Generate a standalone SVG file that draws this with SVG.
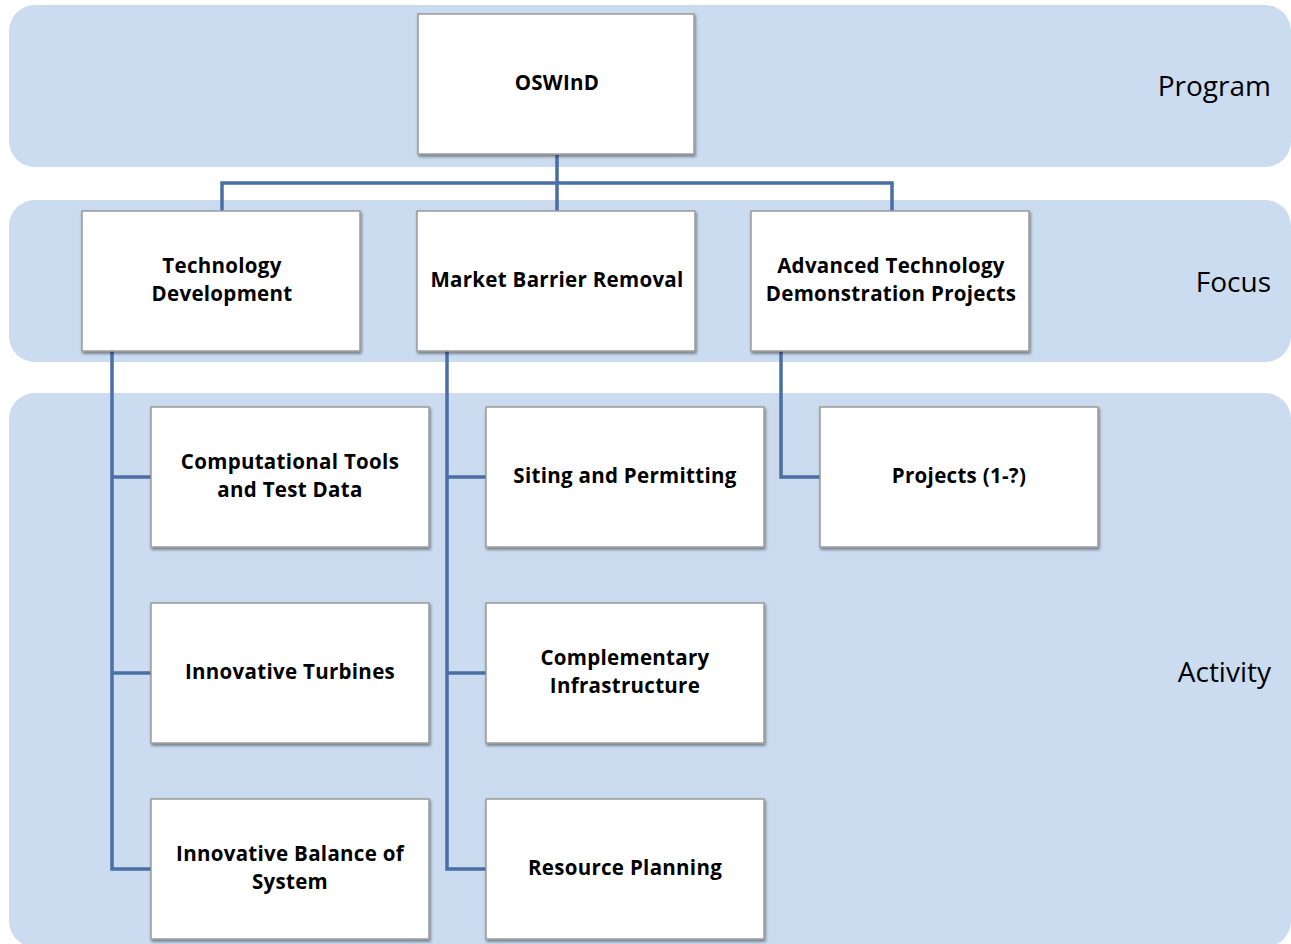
<svg xmlns="http://www.w3.org/2000/svg" width="1291" height="944" viewBox="0 0 1291 944">
<defs>
<filter id="sh" x="-10%" y="-10%" width="125%" height="125%">
<feGaussianBlur in="SourceAlpha" stdDeviation="1.5"/>
<feOffset dx="1" dy="2" result="b"/>
<feComponentTransfer><feFuncA type="linear" slope="0.45"/></feComponentTransfer>
<feMerge><feMergeNode/><feMergeNode in="SourceGraphic"/></feMerge>
</filter>
</defs>
<style>
.band{fill:#cbdcf0}
.node rect{fill:#ffffff;stroke:#9a9a9a;stroke-width:1.5;filter:url(#sh)}
.node text{font-family:"Open Sans","Liberation Sans",sans-serif;font-weight:bold;font-size:20.5px;fill:#000;text-anchor:middle;letter-spacing:0.3px}
.lab{font-family:"Open Sans","Liberation Sans",sans-serif;font-size:28px;fill:#000;text-anchor:end}
.conn{fill:none;stroke:#4a6fa5;stroke-width:3.5}
</style>
<rect width="1291" height="944" fill="#ffffff"/>
<g id="bands">
<rect class="band" x="9" y="5" width="1282" height="162" rx="26"/>
<rect class="band" x="9" y="200" width="1282" height="162" rx="26"/>
<rect class="band" x="9" y="393" width="1282" height="554" rx="26"/>
<text class="lab" x="1271" y="96">Program</text>
<text class="lab" x="1271" y="292">Focus</text>
<text class="lab" x="1271" y="682">Activity</text>
</g>
<g id="connectors">
<path class="conn" d="M557 155V183M222 211V183H892V211M557 183V211"/>
<path class="conn" d="M112 351V869H151M112 477H151M112 673H151"/>
<path class="conn" d="M447 351V869H486M447 477H486M447 673H486"/>
<path class="conn" d="M781 351V477H820"/>
</g>
<g id="n-oswind" class="node"><rect x="418" y="14" width="276" height="140"/><text x="557" y="90">OSWInD</text></g>
<g id="n-techdev" class="node"><rect x="82" y="211" width="278" height="140"/><text x="222" y="273">Technology</text><text x="222" y="301">Development</text></g>
<g id="n-market" class="node"><rect x="417" y="211" width="278" height="140"/><text x="557" y="287">Market Barrier Removal</text></g>
<g id="n-advanced" class="node"><rect x="751" y="211" width="278" height="140"/><text x="891" y="273">Advanced Technology</text><text x="891" y="301">Demonstration Projects</text></g>
<g id="n-comp" class="node"><rect x="151" y="407" width="278" height="140"/><text x="290" y="469">Computational Tools</text><text x="290" y="497">and Test Data</text></g>
<g id="n-turb" class="node"><rect x="151" y="603" width="278" height="140"/><text x="290" y="679">Innovative Turbines</text></g>
<g id="n-bos" class="node"><rect x="151" y="799" width="278" height="140"/><text x="290" y="861">Innovative Balance of</text><text x="290" y="889">System</text></g>
<g id="n-siting" class="node"><rect x="486" y="407" width="278" height="140"/><text x="625" y="483">Siting and Permitting</text></g>
<g id="n-infra" class="node"><rect x="486" y="603" width="278" height="140"/><text x="625" y="665">Complementary</text><text x="625" y="693">Infrastructure</text></g>
<g id="n-resource" class="node"><rect x="486" y="799" width="278" height="140"/><text x="625" y="875">Resource Planning</text></g>
<g id="n-projects" class="node"><rect x="820" y="407" width="278" height="140"/><text x="959" y="483">Projects (1-?)</text></g>
</svg>
